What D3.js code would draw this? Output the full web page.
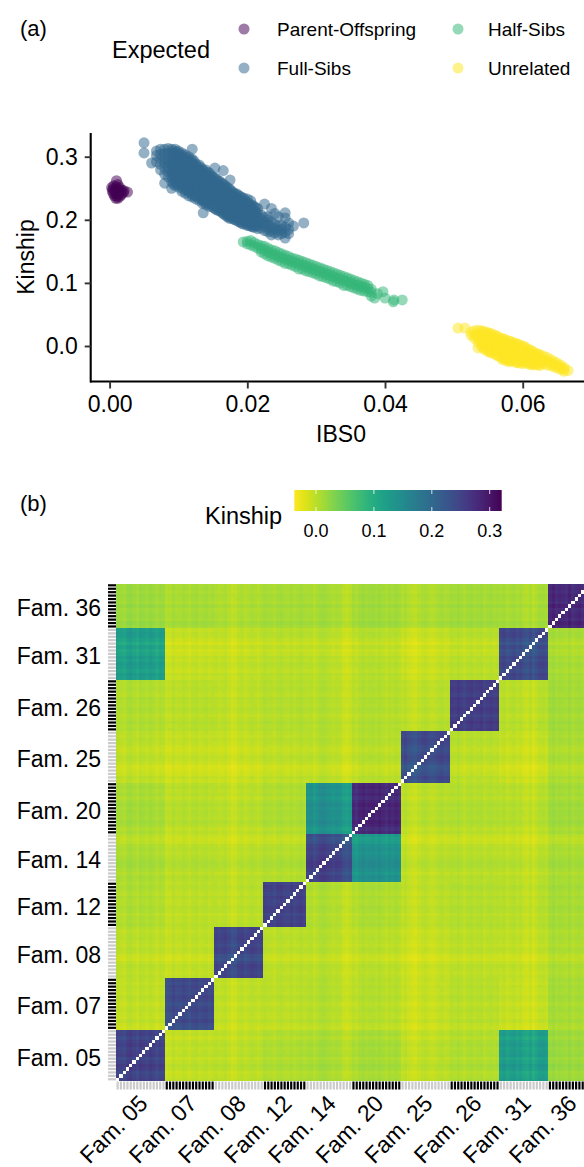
<!DOCTYPE html>
<html><head><meta charset="utf-8">
<script src="https://cdn.jsdelivr.net/npm/d3@7"></script>
<style>html,body{margin:0;padding:0;background:#fff;overflow:hidden}text{font-family:"Liberation Sans",Arial,sans-serif;fill:#000}</style>
</head><body><svg id="c" width="584" height="1167"></svg>
<script>
// ---------- panel (a) data: one IBS0 per column, kinship values per column
const relationNames = ["Parent-Offspring","Full-Sibs","Half-Sibs","Unrelated"];
const relationColors = ["#440154","#31688E","#35B779","#FDE725"];
const parentOffspringIBS0 = [.0003,.0004,.0005,.0006,.0007,.0008,.0009,.0010,.0011,.0012,.0013,.0015,.0016,.0017,.0018,.0020,.0021,.0026];
const parentOffspringKin = [[.251],[.246],[.249,.242],[.254],[.238],[.245],[.248,.241,.234],[.262,.252],[.237],[.256,.245,.234],[.2485,.241],[.251,.237],[.244],[.240],[.247],[.243],[.246],[.244]];
const fullSibIBS0 = [.0050,.0061,.0068,.0074,.0080,.0085,.0090,.0095,.0100,.0105,.0110,.0115,.0120,.0125,.0130,.0136,.0135,.0140,.0145,.0150,.0153,.0155,.0160,.0165,.0170,.0175,.0180,.0185,.0190,.0195,.0200,.0205,.0210,.0215,.0220,.0225,.0230,.0235,.0240,.0245,.0250,.0255,.0260,.0267,.0282,
 .00925,.00975,.01025,.01075,.01125,.01175,.01225,.01275,.01325,.01375,.01425,.01475,.01525,.01575,.01625,.01675,.01725,.01775,.01825,.01875,.01925,.01975,.02025,.02075,.02125];
const fullSibKin = [[.322,.306],[.290],[.309,.302,.292],[.312,.304,.296,.288,.279],[.312,.305,.297,.290,.282,.272,.258],[.313,.306,.298,.291,.284,.276,.268],[.312,.305,.298,.291,.284,.276,.269,.261,.250],[.312,.305,.298,.290,.283,.276,.268,.261,.254],[.309,.302,.295,.288,.281,.274,.267,.260,.252],[.306,.299,.292,.285,.278,.271,.264,.257,.250,.245],[.303,.296,.289,.282,.275,.268,.261,.254,.247,.242],[.300,.293,.286,.279,.272,.265,.258,.251,.244,.238],[.312,.296,.290,.283,.276,.269,.262,.255,.248,.241,.236],[.289,.282,.275,.268,.261,.254,.247,.240,.233],[.287,.280,.273,.266,.259,.252,.245,.238,.231],[.211],[.280,.273,.266,.259,.252,.245,.238,.231,.226],[.279,.272,.265,.258,.251,.244,.237,.230,.224],[.274,.268,.261,.254,.247,.240,.233,.226,.221],[.268,.262,.255,.248,.241,.234,.227,.220],[.282],[.265,.258,.251,.244,.237,.230,.223,.216],[.261,.254,.247,.240,.233,.226,.219,.214],[.278,.257,.250,.243,.236,.229,.222,.215,.210],[.252,.245,.238,.231,.224,.217,.210,.206],[.263,.248,.241,.234,.227,.220,.213,.206,.202],[.243,.236,.229,.222,.215,.208,.201],[.241,.234,.227,.220,.213,.206,.199],[.237,.230,.223,.216,.209,.202,.196],[.234,.227,.220,.213,.206,.199,.193],[.233,.226,.219,.212,.205,.198,.191],[.230,.222,.215,.208,.201,.194,.190],[.221,.214,.207,.200,.193,.188],[.218,.211,.204,.197,.190,.186],[.208,.201,.194,.187],[.225,.204,.197,.190,.183],[.205,.200,.193,.186,.181],[.218,.196,.189,.182,.176],[.210,.193,.186,.179],[.205,.190,.183,.176],[.191,.185,.178],[.211,.203,.188,.180,.171],[.195,.185,.178],[.190],[.195],
 [.309,.301,.294,.287,.280,.272,.265,.257],[.308,.301,.294,.287,.279,.272,.264,.257],[.304,.298,.291,.284,.277,.270,.263,.255],[.301,.295,.288,.281,.274,.267,.260,.253],[.298,.291,.284,.277,.270,.263,.256,.249],[.295,.288,.281,.274,.267,.260,.253,.246],[.293,.286,.279,.272,.265,.258,.251,.244,.238],[.285,.278,.271,.264,.257,.250,.243,.236],[.283,.276,.269,.262,.255,.248,.241,.234],[.277,.270,.263,.256,.249,.242,.235,.228],[.275,.268,.261,.254,.247,.240,.233,.226],[.270,.264,.258,.251,.244,.237,.230,.223],[.266,.259,.252,.245,.238,.231,.224,.218],[.262,.256,.249,.242,.235,.228,.221,.215],[.258,.252,.245,.238,.231,.224,.217,.212],[.254,.248,.241,.234,.227,.220,.213,.208],[.250,.243,.236,.229,.222,.215,.208,.204],[.245,.238,.231,.224,.217,.210,.204],[.241,.234,.227,.220,.213,.206,.200],[.238,.231,.224,.217,.210,.203,.197],[.235,.228,.221,.214,.207,.200,.194],[.230,.223,.216,.209,.202,.195],[.226,.219,.212,.205,.198,.191],[.223,.216,.209,.202,.195,.189],[.219,.212,.205,.198,.191]];
const halfSibIBS0 = [.0194,.0200,.0205,.0210,.0215,.0220,.0225,.0230,.0235,.0240,.0245,.0250,.0255,.0260,.0265,.0270,.0275,.0280,.0285,.0290,.0295,.0300,.0305,.0310,.0315,.0320,.0325,.0330,.0335,.0340,.0345,.0350,.0355,.0360,.0365,.0370,.0375,.0380,.0385,.0389,.0397,.0400,.0412,.0413,.0425];
const halfSibKin = [[.165],[.166,.162],[.167,.160],[.164,.158],[.161,.155],[.159,.154,.149],[.158,.152,.146],[.155,.149,.143],[.152,.147,.141],[.151,.145,.139],[.148,.142,.136],[.146,.140,.134],[.144,.138,.131],[.142,.136,.130],[.139,.134,.128],[.138,.132,.126],[.136,.130,.122],[.134,.128,.122],[.132,.126,.119],[.130,.124,.118],[.128,.122,.116],[.126,.120,.114],[.124,.118,.111],[.122,.116,.110],[.120,.114,.108],[.118,.112,.106],[.116,.110,.103],[.114,.108,.102],[.112,.106,.100],[.110,.104,.096],[.108,.102,.096],[.106,.100,.094],[.104,.098,.092],[.102,.096,.090],[.100,.094,.088],[.098,.093,.087],[.096,.091,.086],[.090,.085,.079],[.076],[.083],[.086],[.076],[.070],[.073],[.073]];
const unrelatedIBS0 = [.0506,.0516,.0525,.0530,.0535,.0540,.0545,.0550,.0555,.0560,.0565,.0570,.0575,.0580,.0585,.0590,.0595,.0600,.0605,.0610,.0615,.0620,.0625,.0630,.0635,.0640,.0645,.0650,.0655,.0660,.0666,
 .05425,.05525,.05625,.05725,.05825,.05925,.06025,.06125,.06225];
const unrelatedKin = [[.0285],[.0285],[.022,.017],[.024,.018,.012],[.025,.019,.013,.006,-.003],[.024,.018,.012,.006,.000],[.023,.017,.011,.005,-.001,-.006],[.021,.015,.009,.003,-.003,-.009],[.019,.013,.007,.001,-.005,-.011],[.017,.011,.005,-.001,-.007,-.013],[.014,.008,.002,-.004,-.010,-.016],[.012,.006,.000,-.006,-.012,-.018,-.021],[.010,.004,-.002,-.008,-.014,-.020,-.023],[.008,.002,-.004,-.010,-.016,-.022,-.025],[.006,.000,-.006,-.012,-.018,-.024],[.004,-.002,-.008,-.014,-.020,-.026],[.002,-.004,-.010,-.016,-.022,-.027],[.000,-.006,-.012,-.018,-.024,-.028],[-.003,-.009,-.015,-.021,-.027],[-.006,-.012,-.018,-.024,-.029],[-.009,-.015,-.021,-.027,-.030],[-.012,-.018,-.024,-.029],[-.014,-.020,-.026,-.031],[-.016,-.022,-.028],[-.018,-.024,-.030],[-.021,-.026,-.031],[-.024,-.029,-.033],[-.027,-.031,-.035],[-.030,-.034,-.037],[-.034,-.037,-.040],[-.039],
 [.022,.015,.009,.003,-.003],[.020,.013,.007,.000,-.006,-.010],[.016,.009,.003,-.003,-.009,-.015],[.011,.005,-.001,-.007,-.013,-.019],[.007,.001,-.005,-.011,-.017,-.023],[.003,-.003,-.009,-.015,-.021,-.026],[-.001,-.007,-.013,-.019,-.025],[-.007,-.013,-.019,-.025,-.029],[-.013,-.019,-.025,-.030]];
const ibs0Ticks = [0,.02,.04,.06];
const kinshipTicks = [0,.1,.2,.3];

// ---------- panel (b) data: family sizes, family-pair mean kinship, per-individual offsets read from the stripes
const families = ["Fam. 05","Fam. 07","Fam. 08","Fam. 12","Fam. 14","Fam. 20","Fam. 25","Fam. 26","Fam. 31","Fam. 36"];
const familySizes = [15,15,15,13,14,15,15,15,15,13];
const familyMeans = [
 [.243,-.004,-.002,.002,.004,.006,-.002,.002,.120,.010],
 [-.004,.243,-.002,-.002,.000,.000,-.004,.000,-.004,.006],
 [-.002,-.002,.248,-.002,-.002,-.002,-.005,-.002,-.002,.002],
 [.002,-.002,-.002,.243,.000,.002,-.002,.000,.000,.004],
 [.004,.000,-.002,.000,.240,.130,-.002,-.002,-.002,.002],
 [.006,.000,-.002,.002,.130,.272,.000,.000,.000,.006],
 [-.002,-.004,-.005,-.002,-.002,.000,.245,.000,-.004,.004],
 [.002,.000,-.002,.000,-.002,.000,.000,.250,.000,.006],
 [.120,-.004,-.002,.000,-.002,.000,-.004,.000,.246,.006],
 [.010,.006,.002,.004,.002,.006,.004,.006,.006,.262]];
const individualOffsets = [
 .003,.000,-.003,.004,.007,.002,-.002,.005,.003,.000,.005,.002,-.003,.003,.001,
 -.006,-.004,.002,-.003,-.002,.002,.000,-.004,.001,.003,-.002,.000,.002,-.002,.001,
 .001,-.002,.000,.002,-.003,-.009,-.007,.000,.002,-.003,.000,.003,.001,-.002,.002,
 .004,.001,.002,-.002,.003,.005,.001,.000,.004,-.001,.002,.005,.001,
 .002,.004,-.002,.003,.007,.008,.005,.003,.000,.003,.001,-.006,-.008,-.004,
 .001,-.003,.003,.006,.002,.004,.005,.002,.006,.002,-.002,.003,.000,.004,.001,
 -.003,.001,-.005,-.008,-.010,-.004,.000,.002,-.002,-.005,-.003,.001,.003,-.001,.001,
 .003,.001,.005,.001,-.003,.002,.004,.000,.002,.004,-.002,.001,.003,.000,.002,
 -.001,.002,-.004,.000,.002,-.003,.001,-.005,-.008,-.002,-.010,-.004,.001,.002,-.001,
 .005,.009,.003,.006,.004,.002,.008,.001,.004,.006,.002,.005,.003];
const legendTicks = [0,.1,.2,.3];
const legendDomain = [-.0375,.3207];

// ---------- layout
const svg = d3.select("#c");
const label = (x,y,s,size,anchor="start") => svg.append("text").attr("x",x).attr("y",y).attr("font-size",size).attr("text-anchor",anchor).text(s);
label(20,36,"(a)",22); label(20,511,"(b)",22);

// ---------- panel (a)
const xS = d3.scaleLinear().domain([0,.0689]).range([109.6,584]);
const yS = d3.scaleLinear().domain([0,.3]).range([346,156.7]);
const flat = (xs,ys,g) => xs.flatMap((x,i)=>ys[i].map(y=>({x,y,g})));
const points = [...flat(parentOffspringIBS0,parentOffspringKin,0),...flat(fullSibIBS0,fullSibKin,1),...flat(halfSibIBS0,halfSibKin,2),...flat(unrelatedIBS0,unrelatedKin,3)];
const colorOf = d3.scaleOrdinal().domain([0,1,2,3]).range(relationColors);
svg.append("g").selectAll("circle").data(points).join("circle")
  .attr("cx",d=>xS(d.x)).attr("cy",d=>yS(d.y)).attr("r",5.5).attr("fill",d=>colorOf(d.g)).attr("fill-opacity",.52);
const axA = svg.append("g").attr("transform","translate(0,381.5)")
  .call(d3.axisBottom(xS).tickValues(ibs0Ticks).tickFormat(d3.format(".2f")).tickSize(7).tickPadding(7));
axA.select(".domain").attr("d","M90,0H584").attr("stroke","#000").attr("stroke-width",2.1);
axA.selectAll("line").attr("stroke","#333").attr("stroke-width",1.9);
axA.selectAll("text").attr("font-size",23);
const ayA = svg.append("g").attr("transform","translate(90.7,0)")
  .call(d3.axisLeft(yS).tickValues(kinshipTicks).tickFormat(d3.format(".1f")).tickSize(6).tickPadding(7));
ayA.select(".domain").attr("d","M0,133V382.5").attr("stroke","#000").attr("stroke-width",2.1);
ayA.selectAll("line").attr("stroke","#333").attr("stroke-width",1.9);
ayA.selectAll("text").attr("font-size",23);
label(341,442,"IBS0",23,"middle");
svg.append("text").attr("transform","translate(33.5,257) rotate(-90)").attr("font-size",23).attr("text-anchor","middle").text("Kinship");

// legend (a)
label(112,58,"Expected",23.5);
const legX = d3.scaleOrdinal().domain([0,1,2,3]).range([244,244,458,458]);
const legY = d3.scaleOrdinal().domain([0,1,2,3]).range([29,68,29,68]);
const txtX = d3.scaleOrdinal().domain([0,1,2,3]).range([277,277,488,488]);
const leg = svg.append("g").selectAll("g").data(relationNames).join("g");
leg.append("circle").attr("cx",(d,i)=>legX(i)).attr("cy",(d,i)=>legY(i)).attr("r",5.5).attr("fill",(d,i)=>relationColors[i]).attr("fill-opacity",.52);
leg.append("text").attr("x",(d,i)=>txtX(i)).attr("y",(d,i)=>legY(i)+7).attr("font-size",19).text(d=>d);

// ---------- panel (b)
const famIndex = familySizes.flatMap((n,i)=>d3.range(n).map(()=>i));
const ids = famIndex.map((f,i)=>i);
const xH = d3.scaleBand().domain(ids).range([116,116+145*3.275]);
const yH = d3.scaleBand().domain(ids).range([1081,583.6]);
const heat = d3.scaleSequential(t=>d3.interpolateViridis(1-t)).domain(legendDomain);
const cells = d3.cross(ids,ids).map(([c,r])=>{
  const m = familyMeans[famIndex[r]][famIndex[c]];
  const gain = m>.05 ? 2 : 1;   // stripes run stronger inside the related blocks
  return {c,r,v:c===r?null:m+gain*(individualOffsets[r]+individualOffsets[c])};
});
svg.append("g").attr("shape-rendering","crispEdges").selectAll("rect").data(cells).join("rect")
  .attr("x",d=>xH(d.c)).attr("y",d=>yH(d.r)).attr("width",xH.bandwidth()).attr("height",yH.bandwidth())
  .attr("fill",d=>d.v===null?"#fff":heat(d.v));

// individual ticks, alternating by family
const tickColor = i => famIndex[i]%2===0 ? "#cbcbcb" : "#000";
const gx = svg.append("g").attr("transform","translate(0,1081.5)").call(d3.axisBottom(xH).tickSize(8).tickFormat(""));
gx.select(".domain").remove();
gx.selectAll("line").attr("stroke",tickColor).attr("stroke-width",2.2);
const gy = svg.append("g").attr("transform","translate(116,0)").call(d3.axisLeft(yH).tickSize(8).tickFormat(""));
gy.select(".domain").remove();
gy.selectAll("line").attr("stroke",tickColor).attr("stroke-width",2.2);

// family labels
let cum = 0;
const famPosIdx = familySizes.map(n=>{const a=cum;cum+=n;return [a,cum-1];});
const famX = d3.scaleOrdinal().domain(families).range(famPosIdx.map(([a,b])=>(xH(a)+xH(b)+xH.bandwidth())/2));
const famY = d3.scaleOrdinal().domain(families).range(famPosIdx.map(([a,b])=>(yH(a)+yH(b)+yH.bandwidth())/2));
const lx = svg.append("g").attr("transform","translate(0,1081)").call(d3.axisBottom(famX).tickSize(0).tickPadding(0));
lx.select(".domain").remove();
lx.selectAll("text").attr("font-size",23).attr("text-anchor","end").attr("dy",null).attr("y",0)
  .attr("transform","translate(8,24) rotate(-45)");
const ly = svg.append("g").attr("transform","translate(101,2.5)").call(d3.axisLeft(famY).tickSize(0).tickPadding(0));
ly.select(".domain").remove();
ly.selectAll("text").attr("font-size",23);

// colour legend (b)
const legS = d3.scaleLinear().domain(legendDomain).range([294.3,501.7]);
const grad = svg.append("defs").append("linearGradient").attr("id","g1");
grad.selectAll("stop").data(d3.range(0,1.0001,.05)).join("stop").attr("offset",d=>d).attr("stop-color",d=>d3.interpolateViridis(1-d));
svg.append("rect").attr("x",legS(legendDomain[0])).attr("y",490).attr("width",legS(legendDomain[1])-legS(legendDomain[0])).attr("height",21).attr("fill","url(#g1)");
const legAxis = svg.append("g").attr("transform","translate(0,490)");
legAxis.selectAll("line.a").data(legendTicks).join("line").attr("class","a").attr("x1",d=>legS(d)).attr("x2",d=>legS(d)).attr("y1",0).attr("y2",4).attr("stroke","#fff").attr("stroke-opacity",.8);
legAxis.selectAll("line.b").data(legendTicks).join("line").attr("class","b").attr("x1",d=>legS(d)).attr("x2",d=>legS(d)).attr("y1",17).attr("y2",21).attr("stroke","#fff").attr("stroke-opacity",.8);
legAxis.selectAll("text").data(legendTicks).join("text").attr("x",d=>legS(d)).attr("y",47).attr("text-anchor","middle").attr("font-size",18).text(d3.format(".1f"));
label(205,524,"Kinship",23.5);
</script></body></html>
